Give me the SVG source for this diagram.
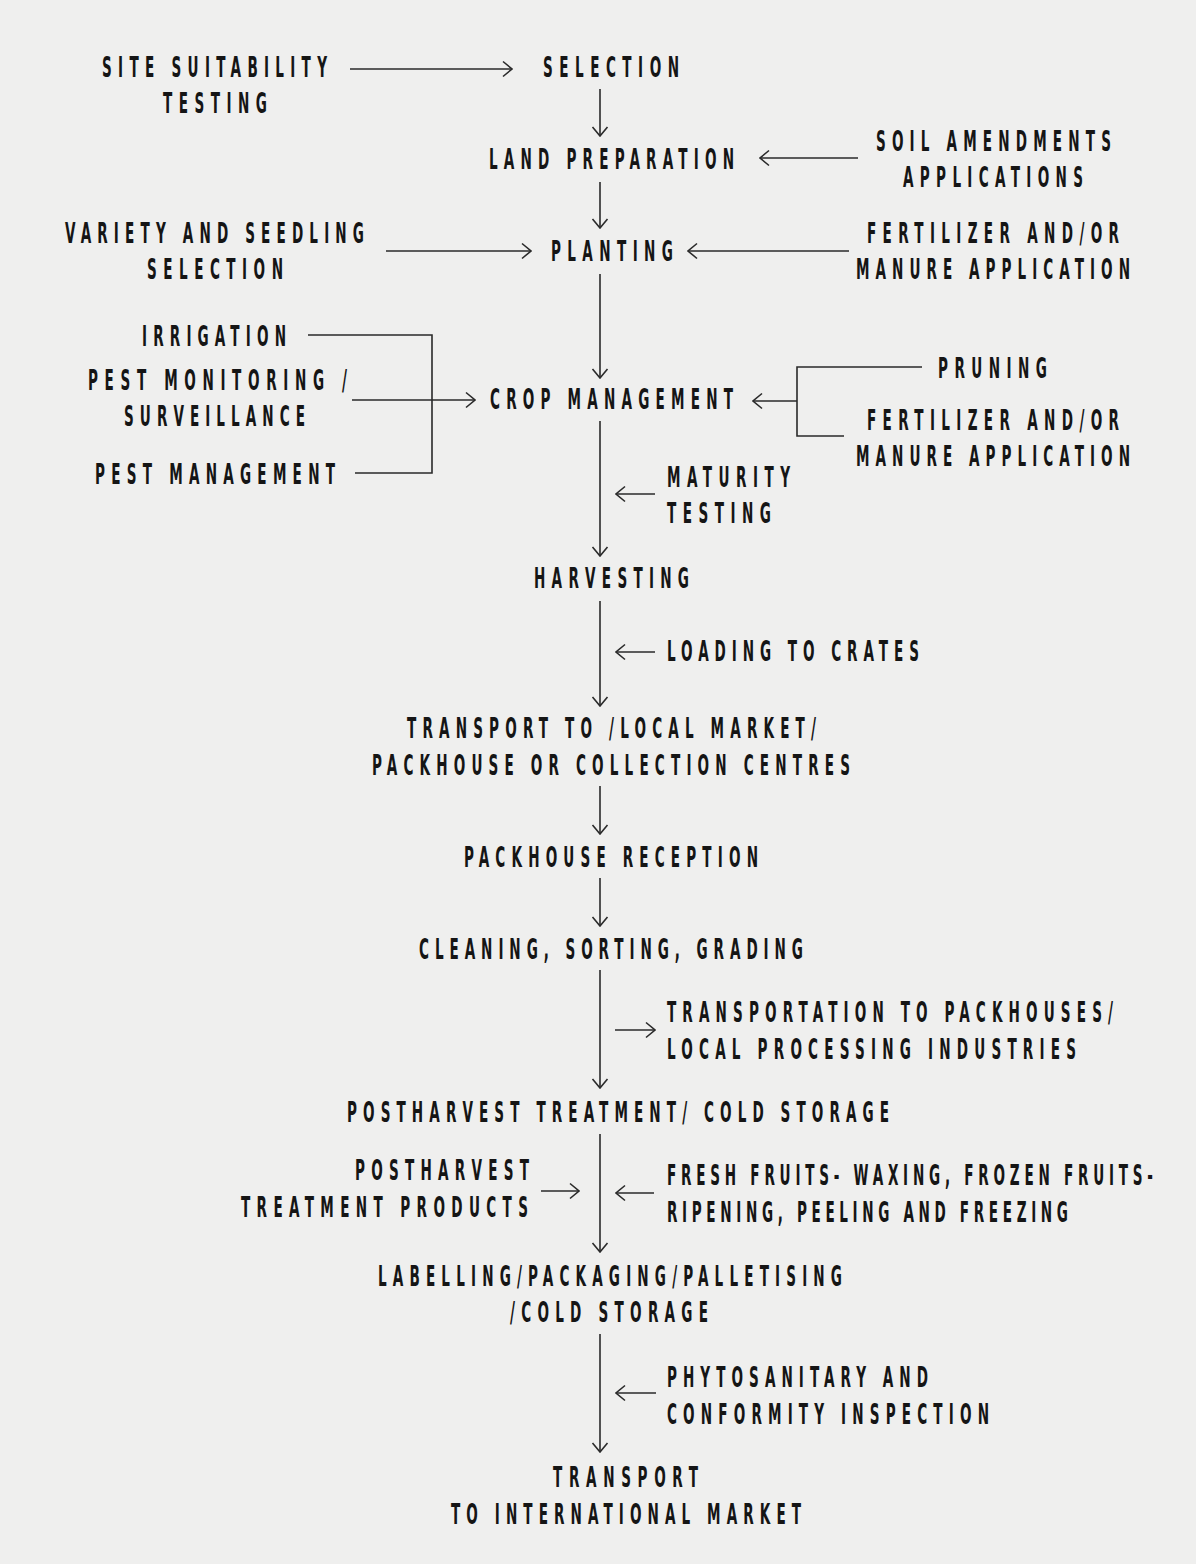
<svg xmlns="http://www.w3.org/2000/svg" width="1196" height="1564" viewBox="0 0 1196 1564">
<defs>
<style>
text{font-family:"DejaVu Sans Condensed","Liberation Sans Narrow","Liberation Sans",sans-serif;font-size:29px;font-weight:bold;fill:#151515;}
.c{fill:none;stroke:#2a2a2a;stroke-width:1.6;}
</style>
<marker id="ah" viewBox="-11 -9 12 18" markerWidth="12" markerHeight="18" refX="0" refY="0" orient="auto" markerUnits="userSpaceOnUse">
<path d="M-9,-7.5 L0,0 L-9,7.5" fill="none" stroke="#2a2a2a" stroke-width="1.6"/>
</marker>
</defs>
<rect width="1196" height="1564" fill="#efefee"/>
<g id="connectors">
<line class="c" x1="350" y1="69" x2="512" y2="69" marker-end="url(#ah)"/>
<line class="c" x1="600" y1="89" x2="600" y2="136" marker-end="url(#ah)"/>
<line class="c" x1="858" y1="158" x2="760" y2="158" marker-end="url(#ah)"/>
<line class="c" x1="600" y1="182" x2="600" y2="228" marker-end="url(#ah)"/>
<line class="c" x1="386" y1="251" x2="531" y2="251" marker-end="url(#ah)"/>
<line class="c" x1="849" y1="251" x2="688" y2="251" marker-end="url(#ah)"/>
<line class="c" x1="600" y1="274" x2="600" y2="378" marker-end="url(#ah)"/>
<polyline class="c" points="308,335 432,335 432,473 355,473"/>
<line class="c" x1="352" y1="400" x2="475" y2="400" marker-end="url(#ah)"/>
<polyline class="c" points="922,367 797,367 797,436 844,436"/>
<line class="c" x1="797" y1="401" x2="753" y2="401" marker-end="url(#ah)"/>
<line class="c" x1="600" y1="421" x2="600" y2="556" marker-end="url(#ah)"/>
<line class="c" x1="655" y1="494" x2="616" y2="494" marker-end="url(#ah)"/>
<line class="c" x1="600" y1="601" x2="600" y2="706" marker-end="url(#ah)"/>
<line class="c" x1="655" y1="652" x2="616" y2="652" marker-end="url(#ah)"/>
<line class="c" x1="600" y1="786" x2="600" y2="834" marker-end="url(#ah)"/>
<line class="c" x1="600" y1="878" x2="600" y2="926" marker-end="url(#ah)"/>
<line class="c" x1="600" y1="970" x2="600" y2="1088" marker-end="url(#ah)"/>
<line class="c" x1="615" y1="1030" x2="655" y2="1030" marker-end="url(#ah)"/>
<line class="c" x1="600" y1="1134" x2="600" y2="1252" marker-end="url(#ah)"/>
<line class="c" x1="541" y1="1191" x2="579" y2="1191" marker-end="url(#ah)"/>
<line class="c" x1="654" y1="1193" x2="616" y2="1193" marker-end="url(#ah)"/>
<line class="c" x1="600" y1="1334" x2="600" y2="1452" marker-end="url(#ah)"/>
<line class="c" x1="656" y1="1393" x2="616" y2="1393" marker-end="url(#ah)"/>
</g>
<g id="site-suitability" transform="scale(0.52 1)"><text x="196.15" y="77" textLength="432.69" lengthAdjust="spacing">SITE SUITABILITY</text><text x="313.46" y="113" textLength="200" lengthAdjust="spacing">TESTING</text></g>
<g id="selection" transform="scale(0.52 1)"><text x="1044.23" y="77" textLength="261.54" lengthAdjust="spacing">SELECTION</text></g>
<g id="land-preparation" transform="scale(0.52 1)"><text x="940.38" y="169" textLength="471.15" lengthAdjust="spacing">LAND PREPARATION</text></g>
<g id="soil-amendments" transform="scale(0.52 1)"><text x="1684.62" y="151" textLength="451.92" lengthAdjust="spacing">SOIL AMENDMENTS</text><text x="1736.54" y="187" textLength="346.15" lengthAdjust="spacing">APPLICATIONS</text></g>
<g id="variety-seedling" transform="scale(0.52 1)"><text x="125" y="243" textLength="575" lengthAdjust="spacing">VARIETY AND SEEDLING</text><text x="282.69" y="279" textLength="261.54" lengthAdjust="spacing">SELECTION</text></g>
<g id="planting" transform="scale(0.52 1)"><text x="1059.62" y="261" textLength="234.62" lengthAdjust="spacing">PLANTING</text></g>
<g id="fertilizer-1" transform="scale(0.52 1)"><text x="1667.31" y="243" textLength="484.62" lengthAdjust="spacing">FERTILIZER AND/OR</text><text x="1646.15" y="279" textLength="526.92" lengthAdjust="spacing">MANURE APPLICATION</text></g>
<g id="irrigation" transform="scale(0.52 1)"><text x="273.08" y="346" textLength="276.92" lengthAdjust="spacing">IRRIGATION</text></g>
<g id="pest-monitoring" transform="scale(0.52 1)"><text x="169.23" y="390" textLength="498.08" lengthAdjust="spacing">PEST MONITORING /</text><text x="238.46" y="426" textLength="348.08" lengthAdjust="spacing">SURVEILLANCE</text></g>
<g id="pest-management" transform="scale(0.52 1)"><text x="182.69" y="484" textLength="461.54" lengthAdjust="spacing">PEST MANAGEMENT</text></g>
<g id="crop-management" transform="scale(0.52 1)"><text x="942.31" y="409" textLength="467.31" lengthAdjust="spacing">CROP MANAGEMENT</text></g>
<g id="pruning" transform="scale(0.52 1)"><text x="1803.85" y="378" textLength="209.62" lengthAdjust="spacing">PRUNING</text></g>
<g id="fertilizer-2" transform="scale(0.52 1)"><text x="1667.31" y="430" textLength="484.62" lengthAdjust="spacing">FERTILIZER AND/OR</text><text x="1646.15" y="466" textLength="526.92" lengthAdjust="spacing">MANURE APPLICATION</text></g>
<g id="maturity-testing" transform="scale(0.52 1)"><text x="1282.69" y="487" textLength="236.54" lengthAdjust="spacing">MATURITY</text><text x="1282.69" y="523" textLength="200" lengthAdjust="spacing">TESTING</text></g>
<g id="harvesting" transform="scale(0.52 1)"><text x="1026.92" y="588" textLength="298.08" lengthAdjust="spacing">HARVESTING</text></g>
<g id="loading-crates" transform="scale(0.52 1)"><text x="1282.69" y="661" textLength="484.62" lengthAdjust="spacing">LOADING TO CRATES</text></g>
<g id="transport-local" transform="scale(0.52 1)"><text x="782.69" y="738" textLength="786.54" lengthAdjust="spacing">TRANSPORT TO /LOCAL MARKET/</text><text x="715.38" y="775" textLength="919.23" lengthAdjust="spacing">PACKHOUSE OR COLLECTION CENTRES</text></g>
<g id="packhouse-reception" transform="scale(0.52 1)"><text x="892.31" y="867" textLength="565.38" lengthAdjust="spacing">PACKHOUSE RECEPTION</text></g>
<g id="cleaning" transform="scale(0.52 1)"><text x="805.77" y="959" textLength="738.46" lengthAdjust="spacing">CLEANING, SORTING, GRADING</text></g>
<g id="transportation-packhouses" transform="scale(0.52 1)"><text x="1282.69" y="1022" textLength="857.69" lengthAdjust="spacing">TRANSPORTATION TO PACKHOUSES/</text><text x="1282.69" y="1059" textLength="786.54" lengthAdjust="spacing">LOCAL PROCESSING INDUSTRIES</text></g>
<g id="postharvest-treatment" transform="scale(0.52 1)"><text x="667.31" y="1122" textLength="1042.31" lengthAdjust="spacing">POSTHARVEST TREATMENT/ COLD STORAGE</text></g>
<g id="postharvest-products" transform="scale(0.52 1)"><text x="682.69" y="1180" textLength="334.62" lengthAdjust="spacing">POSTHARVEST</text><text x="463.46" y="1217" textLength="551.92" lengthAdjust="spacing">TREATMENT PRODUCTS</text></g>
<g id="fresh-fruits" transform="scale(0.52 1)"><text x="1282.69" y="1185" textLength="934.62" lengthAdjust="spacing">FRESH FRUITS- WAXING, FROZEN FRUITS-</text><text x="1282.69" y="1222" textLength="771.15" lengthAdjust="spacing">RIPENING, PEELING AND FREEZING</text></g>
<g id="labelling" transform="scale(0.52 1)"><text x="726.92" y="1286" textLength="892.31" lengthAdjust="spacing">LABELLING/PACKAGING/PALLETISING</text><text x="980.77" y="1322" textLength="380.77" lengthAdjust="spacing">/COLD STORAGE</text></g>
<g id="phytosanitary" transform="scale(0.52 1)"><text x="1282.69" y="1387" textLength="501.92" lengthAdjust="spacing">PHYTOSANITARY AND</text><text x="1282.69" y="1424" textLength="619.23" lengthAdjust="spacing">CONFORMITY INSPECTION</text></g>
<g id="transport-international" transform="scale(0.52 1)"><text x="1063.46" y="1487" textLength="278.85" lengthAdjust="spacing">TRANSPORT</text><text x="867.31" y="1524" textLength="673.08" lengthAdjust="spacing">TO INTERNATIONAL MARKET</text></g>
</svg>
